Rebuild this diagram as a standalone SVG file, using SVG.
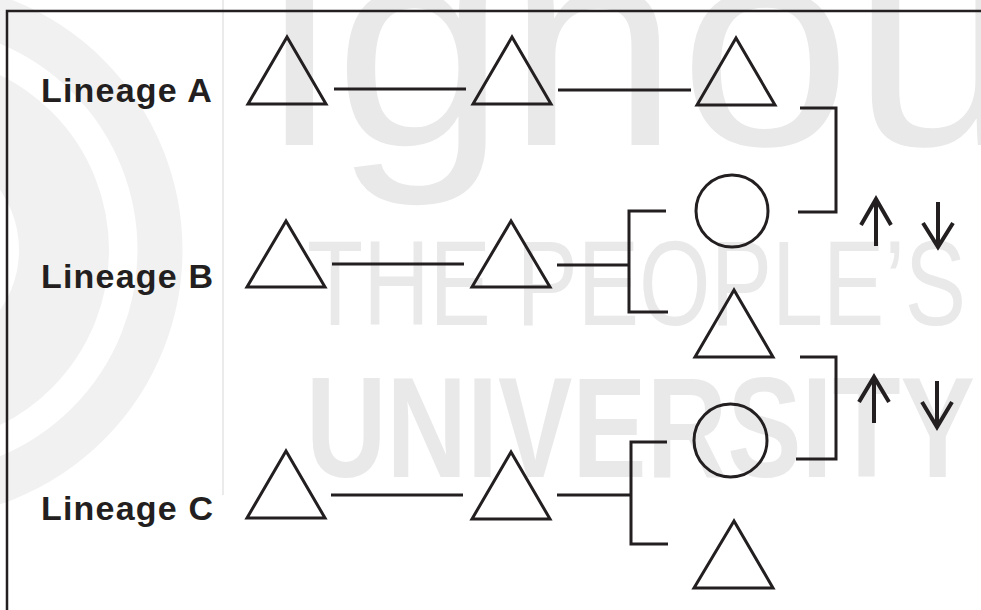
<svg xmlns="http://www.w3.org/2000/svg" width="981" height="610" viewBox="0 0 981 610">
<style>
.wm{fill:#e9e9e9;font-family:"Liberation Sans",Arial,sans-serif}
.arc{fill:none;stroke:#f1f1f1}
.lbl{font-family:"Liberation Sans",Arial,sans-serif;font-weight:bold;font-size:34px;letter-spacing:1.2px;fill:#231f20}
.shape{fill:none;stroke:#231f20;stroke-width:3;stroke-linejoin:miter}
.con{fill:none;stroke:#231f20;stroke-width:3}
.arr{fill:none;stroke:#231f20;stroke-width:4;stroke-linejoin:miter;stroke-miterlimit:10}
</style>
<rect x="0" y="0" width="981" height="610" fill="#ffffff"/>
<g id="watermark">
<circle class="arc" cx="-86" cy="250" r="246" stroke-width="45"/>
<circle class="arc" cx="-86" cy="250" r="150" stroke-width="90"/>
<line x1="223" y1="0" x2="223" y2="495" stroke="#e4e4e4" stroke-width="1.5"/>
<text class="wm" transform="translate(265,145) scale(1.07,1)" x="0" y="0" font-size="290">ignou</text>
<text class="wm" transform="translate(307,325) scale(0.76,1)" x="0" y="0" font-size="121">THE PEOPLE’S</text>
<text class="wm" transform="translate(306,477) scale(0.785,1)" x="0" y="0" font-size="142" font-weight="bold">UNIVERSITY</text>
</g>
<path d="M7,615 V11 H990" fill="none" stroke="#231f20" stroke-width="2.5"/>
<g id="labels">
<g id="label-a"><text class="lbl" x="41" y="102">Lineage A</text></g>
<g id="label-b"><text class="lbl" x="41" y="288">Lineage B</text></g>
<g id="label-c"><text class="lbl" x="41" y="520">Lineage C</text></g>
</g>
<g id="connectors">
<line class="con" x1="334" y1="89" x2="466" y2="89"/>
<line class="con" x1="558" y1="90" x2="691" y2="90"/>
<line class="con" x1="332" y1="264" x2="464" y2="264"/>
<line class="con" x1="557" y1="265" x2="629" y2="265"/>
<line class="con" x1="331" y1="495" x2="463" y2="495"/>
<line class="con" x1="557" y1="495" x2="631" y2="495"/>
<path class="con" d="M800,108 H836 V212 H798"/>
<path class="con" d="M666,211 H629 V312 H668"/>
<path class="con" d="M800,357 H836 V459 H796"/>
<path class="con" d="M667,442 H631 V544 H668"/>
</g>
<g id="node-a1"><polygon class="shape" points="287,37 248,104 326,104"/></g>
<g id="node-a2"><polygon class="shape" points="512,37 473,104 551,104"/></g>
<g id="node-a3"><polygon class="shape" points="736,38 697,105 775,105"/></g>
<g id="node-b1"><polygon class="shape" points="286,221 247,287 325,287"/></g>
<g id="node-b2"><polygon class="shape" points="511,221 472,287 550,287"/></g>
<g id="node-b-circle"><circle class="shape" cx="732" cy="211" r="36"/></g>
<g id="node-b3"><polygon class="shape" points="734,290 695,357 773,357"/></g>
<g id="node-c1"><polygon class="shape" points="286,451 247,518 325,518"/></g>
<g id="node-c2"><polygon class="shape" points="511,452 472,519 550,519"/></g>
<g id="node-c-circle"><circle class="shape" cx="730.5" cy="440.5" r="36.5"/></g>
<g id="node-c3"><polygon class="shape" points="734,521 694,588 773,588"/></g>
<g id="arrows">
<g id="arrows-1">
<line class="arr" x1="876" y1="246" x2="876" y2="200"/>
<polyline class="arr" points="861,225 876,199 891,225"/>
<line class="arr" x1="938" y1="202" x2="938" y2="246"/>
<polyline class="arr" points="923,223 938,247 953,223"/>
</g>
<g id="arrows-2">
<line class="arr" x1="874" y1="423" x2="874" y2="378"/>
<polyline class="arr" points="859,402 874,377 889,402"/>
<line class="arr" x1="937" y1="381" x2="937" y2="426"/>
<polyline class="arr" points="922,402 937,427 952,402"/>
</g>
</g>
</svg>
